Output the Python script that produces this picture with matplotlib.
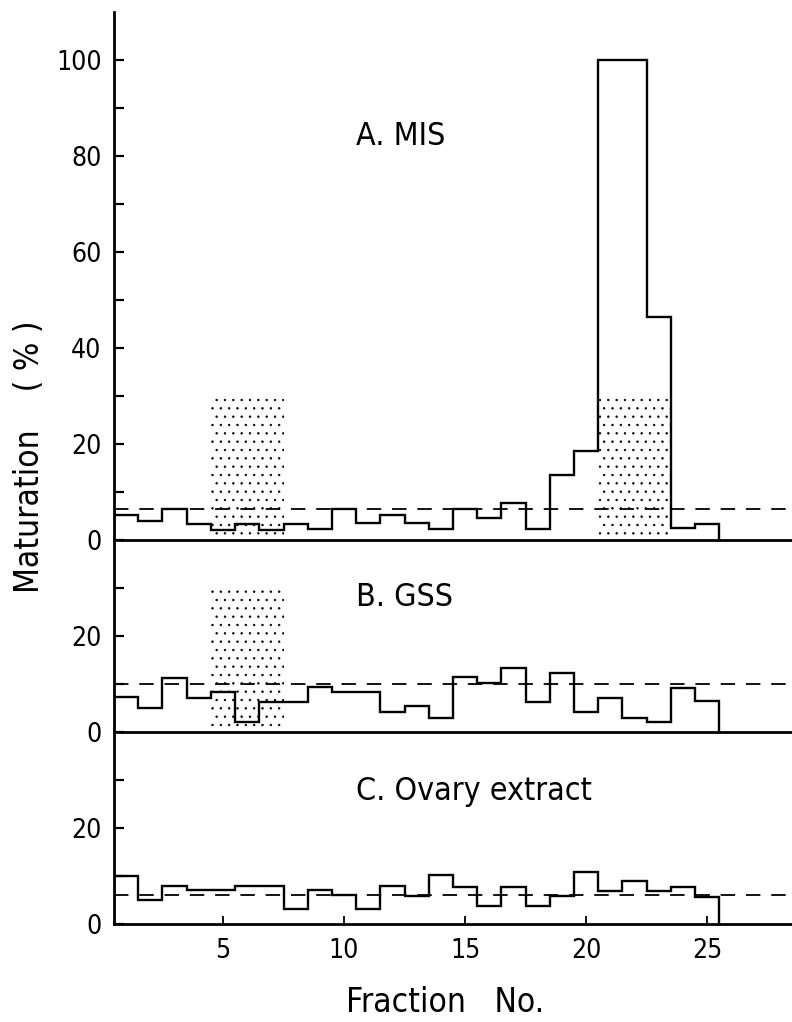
import numpy as np
import matplotlib
matplotlib.use("Agg")
import matplotlib.pyplot as plt

# ---- data ----
fractions = np.arange(1, 26)
mis = [5.2, 4.0, 6.4, 3.3, 2.0, 3.3, 2.1, 3.4, 2.2, 6.4, 3.6, 5.2, 3.6, 2.2,
       6.4, 4.5, 7.7, 2.2, 13.5, 18.6, 100, 100, 46.5, 2.5, 3.3]
gss = [7.2, 5.0, 11.3, 7.0, 8.4, 2.0, 6.3, 6.3, 9.3, 8.4, 8.4, 4.2, 5.4, 3.0,
       11.4, 10.2, 13.3, 6.2, 12.2, 4.2, 7.0, 3.0, 2.0, 9.1, 6.4]
ovary = [10.1, 5.1, 7.9, 7.0, 7.0, 7.9, 7.9, 3.1, 7.1, 6.0, 3.1, 7.9, 5.9, 10.3,
         7.8, 3.8, 7.8, 3.8, 5.9, 10.8, 6.9, 9.0, 6.8, 7.7, 5.7]
control_levels = [6.4, 10.0, 6.0]
panel_titles = ["A. MIS", "B. GSS", "C. Ovary extract"]
mis_shaded = [5, 6, 7, 21, 22, 23]
gss_shaded = [5, 6, 7]
ovary_shaded = []
shade_level = 30
xticks = [5, 10, 15, 20, 25]
ylabel = "Maturation    ( % )"
xlabel = "Fraction   No."

plt.rcParams["font.family"] = ["DejaVu Sans"]
plt.rcParams["font.stretch"] = "condensed"
plt.rcParams["hatch.linewidth"] = 0.5

fig = plt.figure(figsize=(7.92, 10.22), dpi=100)
gs = fig.add_gridspec(3, 1, height_ratios=[110, 40, 40], hspace=0,
                      left=114 / 792, right=1.0, top=1 - 12 / 1022, bottom=1 - 924 / 1022)
axes = [fig.add_subplot(gs[i]) for i in range(3)]

series = [mis, gss, ovary]
shades = [mis_shaded, gss_shaded, ovary_shaded]
ylims = [110, 40, 40]
majors = [[0, 20, 40, 60, 80, 100], [0, 20], [0, 20]]
minors = [[10, 30, 50, 70, 90], [10, 30], [10, 30]]
title_y = [84, 28, 27.7]

edges = np.arange(0.5, 26.5, 1.0)
for i, ax in enumerate(axes):
    ax.set_facecolor("none")
    ax.set_zorder(3 - i)
    if shades[i]:
        ax.bar(shades[i], [shade_level] * len(shades[i]), width=1.0, align="center",
               facecolor="none", edgecolor="black", linewidth=0, hatch="..", zorder=1)
    ax.stairs(series[i], edges, baseline=0, color="black", linewidth=1.7, zorder=3)
    ax.axhline(control_levels[i], color="black", linewidth=1.3,
               linestyle=(0, (8, 6)), zorder=2)
    ax.set_xlim(0.5, 28.5)
    ax.set_ylim(0, ylims[i])
    ax.set_yticks(majors[i])
    ax.set_yticks(minors[i], minor=True)
    for s in ["top", "right"]:
        ax.spines[s].set_visible(False)
    ax.spines["left"].set_linewidth(2.0)
    ax.spines["bottom"].set_linewidth(2.0)
    ax.tick_params(axis="y", which="both", direction="in", length=7, width=1.6,
                   labelsize=19, pad=9)
    ax.text(10.5, title_y[i], panel_titles[i], ha="left", va="center", fontsize=23)
    if i < 2:
        ax.set_xticks([])
    else:
        ax.set_xticks(xticks)
        ax.tick_params(axis="x", direction="in", length=6, width=1.3,
                       labelsize=19, pad=10)

fig.text(30 / 792, 1 - 457 / 1022, ylabel, rotation=90, ha="center", va="center",
         fontsize=24)
fig.text(445 / 792, 1 - 1002 / 1022, xlabel, ha="center", va="center", fontsize=24)

fig.savefig("out.png", dpi=100)
